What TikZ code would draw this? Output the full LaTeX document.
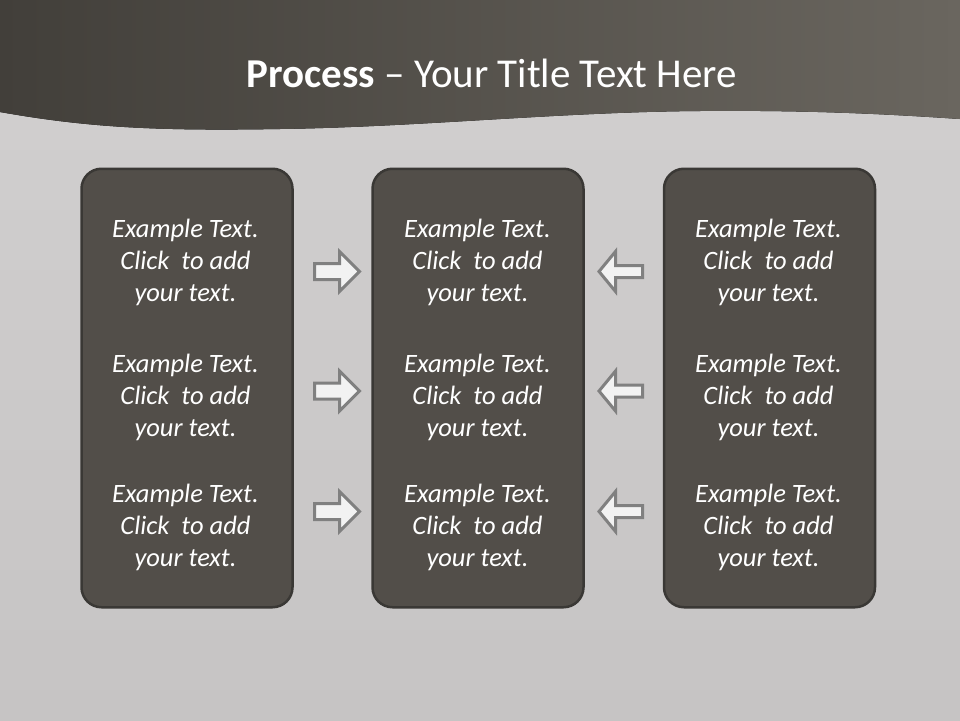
\documentclass[tikz,border=0pt]{standalone}
\usepackage{fontspec}
\setmainfont{Carlito}
\definecolor{boxfill}{HTML}{524E49}
\definecolor{boxline}{HTML}{3A3835}
\definecolor{arrfill}{HTML}{F2F2F2}
\definecolor{arrline}{HTML}{808080}
\definecolor{bgtop}{HTML}{D2D0D0}
\definecolor{bgbot}{HTML}{C6C4C4}
\definecolor{bandl}{HTML}{423F3A}
\definecolor{bandr}{HTML}{6A665F}
\tikzset{
  panel/.style={draw=boxline, line width=2.5pt, fill=boxfill, rounded corners=20pt,
    minimum width=211pt, minimum height=438.5pt, inner sep=0pt},
  txt/.style={text=white, font=\fontsize{26.5}{32}\selectfont\itshape, align=center, inner sep=0pt},
  arr/.style={draw=arrline, fill=arrfill, line width=3pt, line join=miter},
  rarr/.pic={\path[arr] (-23,-8) -- (2,-8) -- (2,-20) -- (22,0) -- (2,20) -- (2,8) -- (-23,8) -- cycle;},
  larr/.pic={\path[arr] (22,-6) -- (-5,-6) -- (-5,-20) -- (-21.5,0) -- (-5,20) -- (-5,6) -- (22,6) -- cycle;}
}
\newcommand{\extxt}{Example Text.\\Click~ to add\\your text.}
\begin{document}
\begin{tikzpicture}[x=1pt,y=-1pt]
\useasboundingbox (0,0) rectangle (960,720);
% background
\fill[top color=bgtop, bottom color=bgbot] (0,0) rectangle (960,720);
% top band with wave
\fill[left color=bandl, right color=bandr]
  (0,0) -- (0,112) .. controls (90,128) and (160,131) .. (280,129)
  .. controls (420,127) and (560,112) .. (700,111)
  .. controls (820,110) and (900,115) .. (960,119) -- (960,0) -- cycle;
% title
\node[anchor=base, text=white, font=\fontsize{41}{48}\selectfont, inner sep=0pt] (title) at (492,87)
  {\textbf{Process} – Your Title Text Here};
% panels
\node[panel] (p1) at (187,388) {};
\node[panel] (p2) at (478,388) {};
\node[panel] (p3) at (769.5,388) {};
% texts
\foreach \cx/\nm in {185.5/a, 477.5/b, 768.5/c}{
  \node[txt] (t\nm1) at (\cx,262.5) {\extxt};
  \node[txt] (t\nm2) at (\cx,397.5) {\extxt};
  \node[txt] (t\nm3) at (\cx,527.5) {\extxt};
}
% arrows
\foreach \ry in {271.5,391,511.5}{
  \pic at (337.5,\ry) {rarr};
  \pic at (620.5,\ry) {larr};
}
\end{tikzpicture}
\end{document}
